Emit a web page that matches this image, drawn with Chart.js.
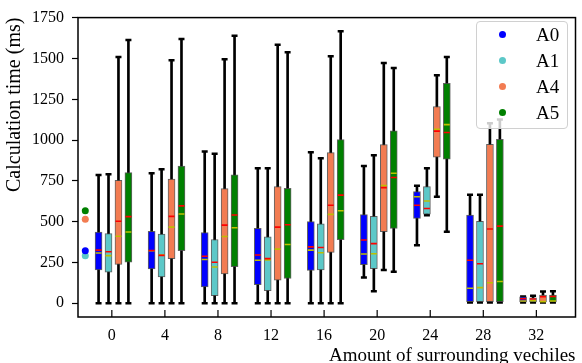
<!DOCTYPE html>
<html lang="en">
<head>
    <meta charset="UTF-8">
    <title>Calculation time box plot</title>
    <script src="https://cdn.jsdelivr.net/npm/chart.js"></script>
    <style>
        body {
            margin: 0;
            padding: 0;
            background-color: #fff;
        }
        .wrap {
            position: relative;
            width: 582px;
            height: 363px;
        }
        .legend {
            position: absolute;
            left: 476px;
            top: 21px;
            width: 92px;
            height: 108px;
            box-sizing: border-box;
            border: 1px solid #d0d0d0;
            border-radius: 4px;
            background-color: rgba(255, 255, 255, 0.8);
            font-family: 'Liberation Serif', serif;
            font-size: 19px;
            color: #000;
        }
        .legend-row {
            position: absolute;
            left: 0;
            width: 100%;
            height: 26px;
            line-height: 26px;
        }
        .legend-dot {
            position: absolute;
            left: 22px;
            top: 9px;
            width: 7px;
            height: 7px;
            border-radius: 50%;
        }
        .legend-text {
            position: absolute;
            left: 59px;
        }
    </style>
</head>
<body>
    <div class="wrap">
        <canvas id="boxChart" width="582" height="363"></canvas>
        <div class="legend" id="legend"></div>
    </div>

    <script>
        // groups on the x axis and the series drawn in each group
        const groups = [0, 4, 8, 12, 16, 20, 24, 28, 32];
        const seriesNames = ['A0', 'A1', 'A4', 'A5'];
        const seriesColors = ['#0000ff', '#5cc8c8', '#f27c52', '#008000'];
        const seriesOffsets = [-1, -0.25, 0.5, 1.25];

        // box statistics, one row per series (A0, A1, A4, A5)
        const lowWhisker = [
            [0, 0, 0, 0, 0, 158, 355, 5, 5],
            [0, 0, 0, 0, 0, 74, 540, 5, 5],
            [0, 0, 0, 0, 0, 204, 653, 5, 5],
            [0, 0, 0, 0, 0, 194, 439, 5, 5]
        ];
        const q1 = [
            [204, 210, 100, 114, 202, 236, 520, 10, 8],
            [190, 162, 46, 78, 204, 212, 547, 10, 8],
            [238, 274, 180, 142, 312, 439, 895, 10, 8],
            [252, 322, 224, 152, 390, 459, 883, 10, 8]
        ];
        const median = [
            [326, 324, 288, 296, 346, 388, 601, 264, 28],
            [316, 294, 252, 274, 342, 366, 581, 242, 26],
            [503, 533, 479, 467, 601, 709, 1055, 455, 40],
            [531, 597, 541, 481, 663, 771, 1047, 473, 42]
        ];
        const mean = [
            [308, 322, 268, 264, 326, 302, 653, 92, 14],
            [292, 296, 222, 266, 310, 304, 627, 96, 16],
            [411, 467, 409, 332, 545, 721, 1067, 126, 10],
            [437, 547, 463, 360, 567, 797, 1095, 134, 14]
        ];
        const q3 = [
            [436, 441, 434, 459, 501, 543, 685, 541, 40],
            [427, 424, 391, 408, 487, 533, 715, 503, 34],
            [753, 761, 703, 715, 923, 973, 1206, 975, 50],
            [801, 841, 787, 705, 1003, 1057, 1348, 1005, 50]
        ];
        const highWhisker = [
            [787, 797, 931, 827, 925, 841, 721, 665, 42],
            [791, 821, 917, 827, 889, 907, 827, 665, 46],
            [1510, 1490, 1496, 1584, 1514, 1472, 1398, 1103, 72],
            [1614, 1620, 1640, 1538, 1668, 1442, 1510, 1127, 74]
        ];

        // lone points left of the first group
        const soloX = -2;
        const soloY = [322, 292, 515, 567];

        const xTicks = [0, 4, 8, 12, 16, 20, 24, 28, 32];
        const yTicks = [0, 250, 500, 750, 1000, 1250, 1500, 1750];

        const serif = "'Liberation Serif', serif";

        const datasets = [];
        seriesNames.forEach((name, s) => {
            const xs = groups.map(g => g + seriesOffsets[s]);
            // whisker line
            datasets.push({
                type: 'bar', order: 5, grouped: false,
                data: xs.map((x, i) => ({ x: x, y: [lowWhisker[s][i], highWhisker[s][i]] })),
                backgroundColor: '#000', barThickness: 2
            });
            // caps
            datasets.push({
                type: 'scatter', order: 4,
                data: xs.flatMap((x, i) => [{ x: x, y: lowWhisker[s][i] }, { x: x, y: highWhisker[s][i] }]),
                pointStyle: 'line', pointRadius: 3, pointBorderWidth: 2.5, pointBorderColor: '#000'
            });
            // box
            datasets.push({
                type: 'bar', order: 3, grouped: false,
                data: xs.map((x, i) => ({ x: x, y: [q1[s][i], q3[s][i]] })),
                backgroundColor: seriesColors[s], borderColor: 'rgba(70,70,70,0.85)',
                borderWidth: 1, borderSkipped: false, barThickness: 7
            });
            // mean line
            datasets.push({
                type: 'scatter', order: 2,
                data: xs.map((x, i) => ({ x: x, y: mean[s][i] })),
                pointStyle: 'line', pointRadius: 3, pointBorderWidth: 1.6, pointBorderColor: '#bfbf00'
            });
            // median line
            datasets.push({
                type: 'scatter', order: 1,
                data: xs.map((x, i) => ({ x: x, y: median[s][i] })),
                pointStyle: 'line', pointRadius: 3, pointBorderWidth: 1.6, pointBorderColor: '#ff0000'
            });
            // lone point
            datasets.push({
                type: 'scatter', order: 0, label: name,
                data: [{ x: soloX, y: soloY[s] }],
                pointStyle: 'circle', pointRadius: 3.5, pointBorderWidth: 0,
                backgroundColor: seriesColors[s]
            });
        });

        // full frame and inward x ticks
        const framePlugin = {
            id: 'frame',
            afterDatasetsDraw(chart) {
                const { ctx, chartArea: a } = chart;
                const x = chart.scales.x;
                ctx.save();
                ctx.strokeStyle = '#000';
                ctx.lineWidth = 1.5;
                ctx.strokeRect(a.left, a.top, a.right - a.left, a.bottom - a.top);
                ctx.lineWidth = 1.2;
                xTicks.forEach(v => {
                    const px = x.getPixelForValue(v);
                    ctx.beginPath();
                    ctx.moveTo(px, a.bottom);
                    ctx.lineTo(px, a.bottom - 7);
                    ctx.stroke();
                });
                ctx.restore();
            }
        };

        new Chart(document.getElementById('boxChart').getContext('2d'), {
            type: 'scatter',
            data: { datasets: datasets },
            options: {
                responsive: false,
                animation: false,
                events: [],
                layout: { padding: { top: 11, right: 6, left: 0, bottom: 0 } },
                plugins: {
                    legend: { display: false },
                    tooltip: { enabled: false }
                },
                scales: {
                    x: {
                        type: 'linear',
                        min: -2.55,
                        max: 34.95,
                        offset: false,
                        afterBuildTicks: s => { s.ticks = xTicks.map(v => ({ value: v })); },
                        afterFit: s => { s.height = 46; },
                        grid: { display: false, drawTicks: false },
                        border: { display: false },
                        ticks: {
                            color: '#000', padding: 9, maxRotation: 0, autoSkip: false,
                            font: { family: serif, size: 16 },
                            callback: v => String(v)
                        },
                        title: {
                            display: true, text: 'Amount of surrounding vechiles', align: 'end',
                            color: '#000', padding: 0,
                            font: { family: serif, size: 19, lineHeight: 0.75 }
                        }
                    },
                    y: {
                        type: 'linear',
                        min: -84,
                        max: 1751,
                        afterBuildTicks: s => { s.ticks = yTicks.map(v => ({ value: v })); },
                        afterFit: s => { s.width = 78; },
                        grid: {
                            display: true, drawOnChartArea: false, drawTicks: true,
                            tickLength: 6, tickColor: '#000', tickWidth: 1.2
                        },
                        border: { display: false },
                        ticks: {
                            color: '#000', padding: 8,
                            font: { family: serif, size: 16 },
                            callback: v => String(v)
                        },
                        title: {
                            display: true, text: 'Calculation time (ms)', align: 'end',
                            color: '#000', padding: { top: 3, bottom: 0 },
                            font: { family: serif, size: 20 }
                        }
                    }
                }
            },
            plugins: [framePlugin]
        });

        // legend box inside the plot
        const legend = document.getElementById('legend');
        seriesNames.forEach((name, s) => {
            const row = document.createElement('div');
            row.className = 'legend-row';
            row.style.top = (s * 26) + 'px';
            row.innerHTML = '<span class="legend-dot" style="background-color:' + seriesColors[s] + ';"></span>' +
                '<span class="legend-text">' + name + '</span>';
            legend.appendChild(row);
        });
    </script>
</body>
</html>
